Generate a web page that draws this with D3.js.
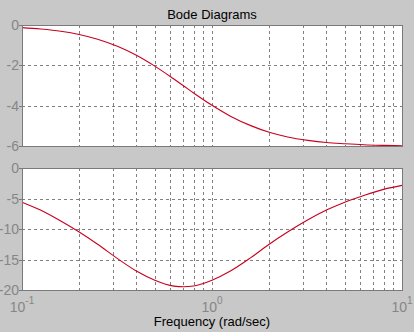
<!DOCTYPE html>
<html><head><meta charset="utf-8">
<script src="https://cdn.jsdelivr.net/npm/d3@7"></script>
<style>body{margin:0;background:#c8c8c8;overflow:hidden}svg{display:block}</style>
</head><body><svg id="c" width="414" height="332"></svg>
<script>
const freq = [0.1,0.125,0.16,0.2,0.25,0.32,0.4,0.5,0.63,0.707,0.8,1,1.25,1.6,2,2.5,3.2,4,5,6.3,8,10];
const magnitude = [-0.13,-0.20,-0.31,-0.47,-0.71,-1.07,-1.50,-2.04,-2.68,-3.01,-3.37,-3.98,-4.52,-4.99,-5.32,-5.55,-5.72,-5.83,-5.89,-5.94,-5.97,-5.99];
const phase = [-5.6,-6.9,-8.7,-10.5,-12.5,-14.9,-16.9,-18.4,-19.36,-19.47,-19.34,-18.4,-16.9,-14.7,-12.5,-10.5,-8.5,-6.9,-5.6,-4.5,-3.5,-2.85];
const magTicks = [0,-2,-4,-6];
const phaseTicks = [0,-5,-10,-15,-20];
const freqTicks = [0.1,1,10];
const freqTickExp = ["-1","0","1"];
const title = "Bode Diagrams";
const xLabel = "Frequency (rad/sec)";

const svg = d3.select("#c");
const W = 414, H = 332;
svg.append("rect").attr("width",W).attr("height",H).attr("fill","#c8c8c8");
const L = 22, R = 402;
const x = d3.scaleLog().domain([0.1,10]).range([L,R]);
const gridX = [];
[0.1,1].forEach(d=>{for(let k=1;k<=9;k++){const v=d*k; if(v>0.1+1e-9 && v<10-1e-9) gridX.push(v);}});
const font = "'Liberation Sans', Arial, sans-serif";

function panel(top, bottom, domain, ticks, values){
  const y = d3.scaleLinear().domain(domain).range([bottom, top]);
  const g = svg.append("g");
  g.append("rect").attr("x",L).attr("y",top).attr("width",R-L).attr("height",bottom-top).attr("fill","#ffffff");
  g.selectAll("line.gx").data(gridX).join("line")
    .attr("x1",d=>Math.round(x(d))+0.5).attr("x2",d=>Math.round(x(d))+0.5)
    .attr("y1",top).attr("y2",bottom)
    .attr("stroke","#808080").attr("stroke-width",1).attr("stroke-dasharray","3,3");
  g.selectAll("line.gy").data(ticks.filter(t=>t!==domain[0]&&t!==domain[1])).join("line")
    .attr("y1",d=>Math.round(y(d))+0.5).attr("y2",d=>Math.round(y(d))+0.5)
    .attr("x1",L).attr("x2",R)
    .attr("stroke","#808080").attr("stroke-width",1).attr("stroke-dasharray","3,3");
  const line = d3.line().x((d,i)=>x(freq[i])).y(d=>y(d)).curve(d3.curveMonotoneX);
  g.append("path").attr("d",line(values)).attr("fill","none").attr("stroke","#c8001e").attr("stroke-width",1.1);
  g.append("rect").attr("x",L+0.5).attr("y",top+0.5).attr("width",R-L).attr("height",bottom-top)
    .attr("fill","none").attr("stroke","#7a7a7a").attr("stroke-width",1);
  g.selectAll("line.tk").data(ticks).join("line")
    .attr("x1",L-3).attr("x2",L).attr("y1",d=>Math.round(y(d))+0.5).attr("y2",d=>Math.round(y(d))+0.5)
    .attr("stroke","#7a7a7a");
  g.selectAll("text.yl").data(ticks).join("text")
    .attr("x",L-3).attr("y",d=>y(d)+5).attr("text-anchor","end")
    .attr("font-family",font).attr("font-size",14).attr("fill","#868686")
    .text(d=>d);
  return y;
}
panel(25,146,[-6,0],magTicks,magnitude);
panel(168,290,[-20,0],phaseTicks,phase);

const xl = svg.selectAll("text.xl").data(freqTicks).join("text")
  .attr("x",d=>x(d)).attr("y",312).attr("text-anchor","middle")
  .attr("font-family",font).attr("font-size",14).attr("fill","#868686");
xl.append("tspan").text("10");
xl.append("tspan").attr("dy",-8).attr("font-size",10).text((d,i)=>freqTickExp[i]);

svg.append("text").attr("x",(L+R)/2).attr("y",19).attr("text-anchor","middle")
  .attr("font-family",font).attr("font-size",13).attr("fill","#000").text(title);
svg.append("text").attr("x",(L+R)/2).attr("y",326).attr("text-anchor","middle")
  .attr("font-family",font).attr("font-size",13).attr("fill","#000").text(xLabel);
</script></body></html>
